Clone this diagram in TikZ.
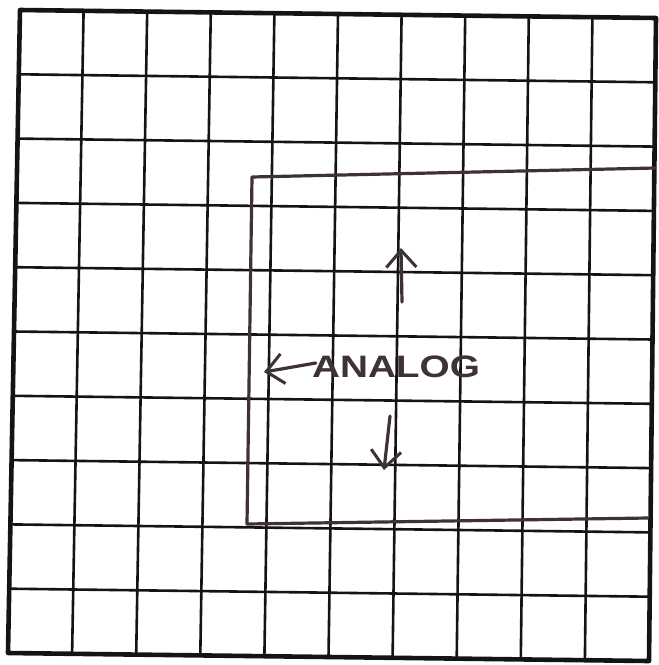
\documentclass[tikz,border=0pt]{standalone}
\usepackage{fontspec}
\setmainfont{Liberation Sans}
\usetikzlibrary{calc,arrows.meta}
\definecolor{ink}{HTML}{141414}
\definecolor{pen}{HTML}{3E3232}
\tikzset{
  gridline/.style={ink, line width=2.6pt},
  borderline/.style={ink, line width=4.6pt, line cap=round, line join=round},
  penline/.style={pen, line width=3.2pt, line cap=round, line join=round},
  penarrow/.style={penline, -{Straight Barb[length=17pt,width=30pt,line width=3pt]}},
  label/.style={pen, font=\fontsize{31}{31}\selectfont\bfseries, xscale=1.25, inner sep=0pt}
}
\begin{document}
\begin{tikzpicture}[x=1pt,y=-1pt]
\useasboundingbox (0,0) rectangle (659,665);
\fill[white] (0,0) rectangle (659,665);
% sheet corners
\coordinate (TL) at (20,10);
\coordinate (TR) at (656,18);
\coordinate (BL) at (8,653);
\coordinate (BR) at (649,661);
% grid
\foreach \i in {1,...,9}{
  \draw[gridline] ($(TL)!\i/10!(TR)$) -- ($(BL)!\i/10!(BR)$);
  \draw[gridline] ($(TL)!\i/10!(BL)$) -- ($(TR)!\i/10!(BR)$);
}
\draw[borderline] (TL) -- (TR) -- (BR) -- (BL) -- cycle;
% hand-drawn bracket
\coordinate (RT) at (655,168);
\coordinate (LT) at (252,177);
\coordinate (LB) at (247,524);
\coordinate (RB) at (648,518);
\draw[penline] (RT) -- (LT) -- (LB) -- (RB);
% label and arrows
\node[label] (lab) at (396,367) {ANALOG};
\coordinate (upS) at (402,302);
\coordinate (upT) at (401,248);
\draw[penarrow] (upS) -- (upT);
\coordinate (dnS) at (390,416);
\coordinate (dnT) at (384,470);
\draw[penarrow] (dnS) -- (dnT);
\coordinate (lfT) at (264,372);
\draw[penarrow] (lab.west) ++(4,-4) coordinate (lfS) (lfS) -- (lfT);
\end{tikzpicture}
\end{document}
